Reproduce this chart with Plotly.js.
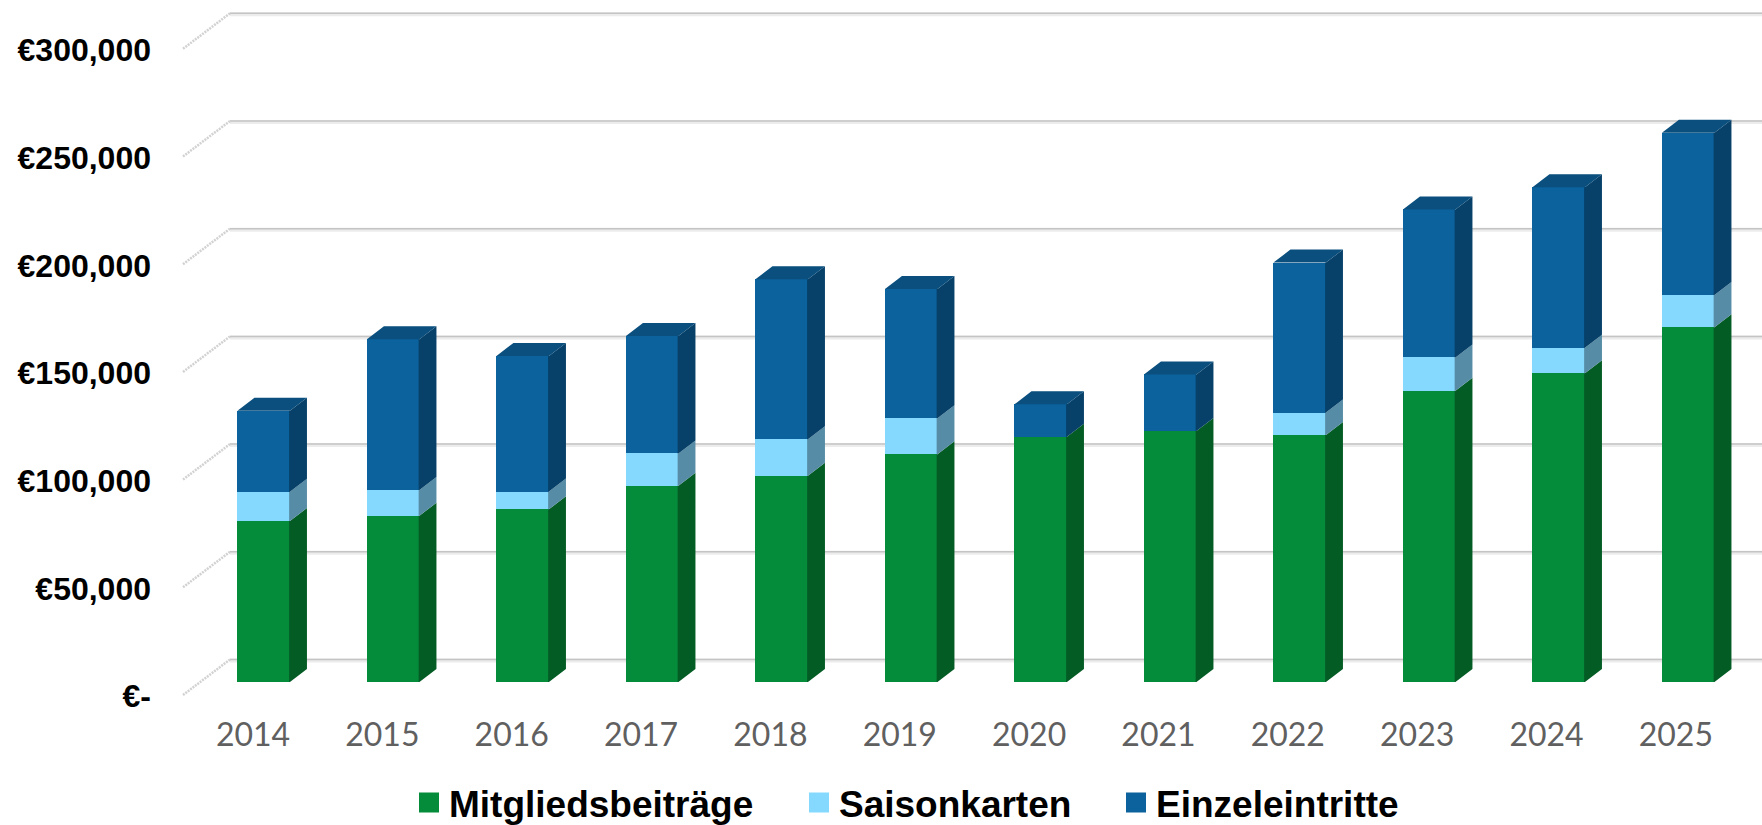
<!DOCTYPE html>
<html>
<head>
<meta charset="utf-8">
<title>Einnahmen</title>
<script src="https://cdn.plot.ly/plotly-3.0.1.min.js"></script>
<style>html,body{margin:0;padding:0;background:#fff;overflow:hidden}#chart{width:1762px;height:825px}</style>
</head>
<body>
<div id="chart"></div>
<script>
// ---- data ----
const years = [2014,2015,2016,2017,2018,2019,2020,2021,2022,2023,2024,2025];
const mitgliedsbeitraege = [74700,77200,80200,91100,95800,105700,113900,116500,114700,135200,143300,164700];
const saisonkarten = [13600,11900,8200,15000,16900,16700,0,0,10400,15500,11900,15000];
const einzeleintritte = [37600,70000,63000,54500,74300,60000,15000,26300,69600,68700,74500,75300];
const gridValues = [0,50000,100000,150000,200000,250000,300000];
const gridLabels = ["€-","€50,000","€100,000","€150,000","€200,000","€250,000","€300,000"];

// ---- page geometry (pixels) used to set up the axes ----
const W = 1762, H = 825, mL = 155, mB = 125;
const plotBottom = H - mB;
const pxPerEuro = 0.002154;
const barZeroPx = 682, labelZeroPx = 696.2, backZeroPx = 659.5;
const barStartPx = 263.7, barPitch = 129.5;
const labelStartPx = 253, labelPitch = 129.35;
const barDepthX = 17, barDepthY = 13;
const wallFrontX = 183, wallBackX = 230, wallFrontZeroPx = 695;
const seamPx = 0.8;

const xOf = px => 2014 + (px - barStartPx) / barPitch;
const x2Of = px => 2014 + (px - labelStartPx) / labelPitch;
const yOf = px => (barZeroPx - px) / pxPerEuro;
const y2Of = px => (labelZeroPx - px) / pxPerEuro;

const barWidth = 52.5 / barPitch;
const dX = barDepthX / barPitch, dY = barDepthY / pxPerEuro;
const seam = seamPx / barPitch;

const series = [
  {name:"Mitgliedsbeiträge", values:mitgliedsbeitraege, front:"#058C3B", side:"#045C25", legend:"legend"},
  {name:"Saisonkarten", values:saisonkarten, front:"#85D9FF", side:"#568CA5", legend:"legend2"},
  {name:"Einzeleintritte", values:einzeleintritte, front:"#0B629C", side:"#074069", legend:"legend3"}
];
const topColor = "#0A4F7E";

const traces = [];
// front faces
series.forEach(s => traces.push({
  type:"bar", x:years, y:s.values, name:s.name, width:barWidth, showlegend:false,
  marker:{color:s.front, line:{width:0}}, hovertemplate:"%{x}: €%{y:,}<extra>"+s.name+"</extra>"
}));
// side faces, stacked from the same values
const running = years.map(() => 0);
series.forEach(s => {
  const xs = [], ys = [];
  years.forEach((yr, i) => {
    const lo = running[i], hi = lo + s.values[i];
    running[i] = hi;
    if (s.values[i] <= 0) return;
    const r = yr + barWidth / 2;
    xs.push(r - seam, r, r + dX, r + dX, r, r - seam, r - seam, null);
    ys.push(lo, lo, lo + dY, hi + dY, hi, hi, lo, null);
  });
  traces.push({type:"scatter", mode:"lines", x:xs, y:ys, fill:"toself", fillcolor:s.side,
    line:{width:0, color:s.side}, hoverinfo:"skip", showlegend:false});
});
// top faces
{
  const xs = [], ys = [];
  years.forEach((yr, i) => {
    const l = yr - barWidth / 2, r = yr + barWidth / 2, t = running[i];
    xs.push(l, l + dX, r + dX, r, l, null);
    ys.push(t, t + dY, t + dY, t, t, null);
  });
  traces.push({type:"scatter", mode:"lines", x:xs, y:ys, fill:"toself", fillcolor:topColor,
    line:{width:0, color:topColor}, hoverinfo:"skip", showlegend:false});
}
// legend entries
series.forEach(s => traces.push({
  type:"scatter", mode:"markers", x:[null], y:[null], name:s.name, legend:s.legend, showlegend:true,
  marker:{symbol:"square", size:16, color:s.front, line:{width:4, color:s.front}}, hoverinfo:"skip"
}));
// carrier for the label axes
traces.push({type:"scatter", mode:"markers", x:years, y:years.map(() => 0), xaxis:"x2", yaxis:"y2",
  marker:{opacity:0, size:1}, hoverinfo:"skip", showlegend:false});

// back wall grid lines and the slanted side wall lines
const shapes = [];
const backY = g => g + (barZeroPx - backZeroPx) / pxPerEuro;
gridValues.forEach(g => {
  const yBack = backY(g);
  const yFront = yOf(wallFrontZeroPx) + g;
  shapes.push({type:"line", layer:"below", xref:"x", yref:"y", x0:xOf(wallBackX), x1:xOf(W),
    y0:yBack - 1 / pxPerEuro, y1:yBack - 1 / pxPerEuro, line:{color:"#ececec", width:4}});
  shapes.push({type:"line", layer:"below", xref:"x", yref:"y", x0:xOf(wallBackX), x1:xOf(W),
    y0:yBack, y1:yBack, line:{color:"#c4c4c4", width:1.5}});
  shapes.push({type:"line", layer:"below", xref:"x", yref:"y", x0:xOf(wallFrontX), x1:xOf(wallBackX),
    y0:yFront, y1:yBack, line:{color:"#d2d2d2", width:2.5, dash:"2px,1px"}});
});

const legendFont = {family:"Liberation Sans, Arial, sans-serif", size:37, color:"#000", weight:700};
const legendBase = {orientation:"h", xanchor:"left", yanchor:"middle", yref:"paper", xref:"paper",
  y:-(803 - plotBottom) / plotBottom, font:legendFont, bgcolor:"rgba(0,0,0,0)", borderwidth:0};
const lx = px => (px - mL) / (W - mL);

const layout = {
  width:W, height:H, margin:{l:mL, r:0, t:0, b:mB, pad:0, autoexpand:false},
  paper_bgcolor:"#fff", plot_bgcolor:"#fff", barmode:"stack", bargap:0, hovermode:"closest",
  xaxis:{type:"linear", range:[xOf(mL), xOf(W)], showgrid:false, zeroline:false, showline:false,
    showticklabels:false, ticks:"", fixedrange:true},
  yaxis:{type:"linear", range:[yOf(plotBottom), yOf(0)], showgrid:false, zeroline:false, showline:false,
    showticklabels:false, ticks:"", fixedrange:true},
  xaxis2:{type:"linear", overlaying:"x", anchor:"y2", side:"bottom", range:[x2Of(mL), x2Of(W)],
    tickmode:"array", tickvals:years, ticktext:years.map(String), showgrid:false, zeroline:false, showline:false,
    ticks:"", ticklabelstandoff:13, tickfont:{family:"Lato, sans-serif", size:32, color:"#606060", weight:400}, fixedrange:true},
  yaxis2:{type:"linear", overlaying:"y", anchor:"x2", side:"left", range:[y2Of(plotBottom), y2Of(0)],
    tickmode:"array", tickvals:gridValues, ticktext:gridLabels, showgrid:false, zeroline:false, showline:false,
    ticks:"", ticklabelstandoff:3, tickfont:{family:"Liberation Sans, Arial, sans-serif", size:32, color:"#000", weight:700}, fixedrange:true},
  legend:Object.assign({}, legendBase, {x:lx(409)}),
  legend2:Object.assign({}, legendBase, {x:lx(799)}),
  legend3:Object.assign({}, legendBase, {x:lx(1116)}),
  shapes:shapes
};
Plotly.newPlot("chart", traces, layout, {displayModeBar:false, responsive:false});
</script>
</body>
</html>
